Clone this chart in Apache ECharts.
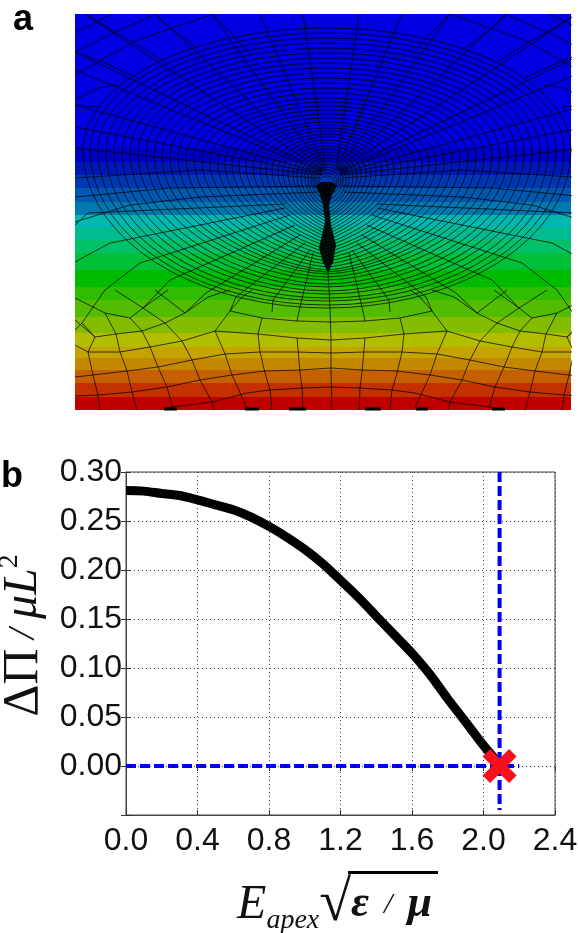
<!DOCTYPE html>
<html>
<head>
<meta charset="utf-8">
<style>html,body{margin:0;background:#fff}#main{width:578px;height:933px}</style>
<script src="https://cdn.jsdelivr.net/npm/echarts@6/dist/echarts.min.js"></script>
</head>
<body>
<div id="main"></div>
<script>
// panel b values
var fieldValues = [0, 0.1, 0.2, 0.3, 0.4, 0.5, 0.6, 0.7, 0.8, 0.9, 1.0, 1.1, 1.2, 1.3, 1.4, 1.5, 1.6, 1.7, 1.8, 1.9, 2.0, 2.07];
var pressureValues = [0.281, 0.2805, 0.278, 0.276, 0.2715, 0.2665, 0.2615, 0.254, 0.2445, 0.2335, 0.221, 0.2065, 0.1895, 0.172, 0.153, 0.134, 0.115, 0.0935, 0.0685, 0.045, 0.021, 0.006];
var criticalField = 2.09;
var criticalLineX = [[criticalField, 0.30], [criticalField, -0.045]];
var criticalLineY = [[0, 0], [2.2, 0]];

// panel a: contour bands (picture units, y downwards)
var bandEdges = [14, 148, 162, 175, 188, 202, 215, 227, 240, 253, 270, 287, 300, 317, 333, 347, 358, 370, 383, 397, 410];
var bandColors = ['#0000e0', '#0000c4', '#0018b8', '#0038b4', '#0058b0', '#0078b0', '#00b8b0', '#00bc90', '#00c068', '#00c038', '#00bc00', '#30bc00', '#54bc00', '#84bc00', '#b4bc00', '#c4a400', '#c48800', '#c46000', '#c43000', '#c00000'];

// panel a: mesh rings, outermost first
var meshCentre = 327;
var ringHalf = [244, 237, 229, 221, 213, 205, 197, 189, 181, 173, 165, 157, 149, 141, 133, 125, 117, 109, 102, 95, 88, 81, 74, 67, 61, 55, 49, 44, 39, 34, 30, 26, 22, 19, 16, 14, 12, 10, 8];
var ringTop = [28, 33, 38, 43, 48, 53, 58, 63, 68, 73, 78, 83, 88, 93, 98, 102, 106, 110, 114, 118, 122, 125, 128, 131, 134, 137, 140, 143, 146, 149, 152, 155, 158, 161, 164, 167, 170, 173, 176];
var ringBottom = [308, 305, 301, 298, 294, 291, 287, 284, 280, 277, 274, 272, 270, 267, 264, 261, 258, 255, 252, 249, 246, 243, 240, 237, 234, 231, 228, 225, 222, 219, 216, 213, 209, 205, 200, 195, 192, 190, 188];
var ringWaist = [150, 150, 150, 151, 151, 152, 152, 153, 153, 154, 155, 156, 157, 158, 159, 160, 161, 162, 163, 164, 165, 166, 167, 168, 169, 170, 171, 172, 173, 174, 175, 176, 177, 178, 179, 180, 181, 182, 183];
var ringPinch = [2, 2, 2, 1.95, 1.9, 1.85, 1.8, 1.75, 1.7, 1.65, 1.6, 1.55, 1.5, 1.45, 1.4, 1.35, 1.3, 1.25, 1.2, 1.2, 1.15, 1.15, 1.1, 1.1, 1.1, 1.1, 1.1, 1.1, 1.1, 1.1, 1.2, 1.2, 1.3, 1.4, 1.5, 1.6, 1.6, 1.6, 1.6];

// spokes and coarse elements of the left half, mirrored for the right half
var mirrorAt = 662;
var upperSpokes = [
  [[326, 170], [303, 14]], [[325, 170], [260, 14]], [[324, 170], [212, 14]], [[323, 170], [155, 14]],
  [[322, 170], [85, 14]], [[322, 171], [75, 52]], [[322, 172], [75, 70]], [[322, 173], [75, 105]],
  [[322, 174], [75, 127]], [[322, 175], [75, 148]], [[320, 178], [200, 170], [75, 178]],
  [[320, 186], [170, 188], [75, 197]], [[318, 192], [200, 197], [130, 205], [75, 222]]
];
var lowerSpokes = [
  [[313, 253], [300, 307], [297, 321]], [[310, 250], [273, 300], [272, 312]],
  [[305, 243], [236, 297], [230, 311]], [[300, 235], [206, 293], [185, 313]], [[295, 225], [170, 280], [143, 308]],
  [[290, 215], [140, 263], [105, 290], [82, 323]], [[285, 208], [110, 243], [75, 262]], [[285, 204], [88, 213], [75, 225]]
];
var coarseMesh = [
  [[75, 33], [112, 14]], [[75, 52], [115, 32], [157, 14]], [[75, 75], [133, 42], [172, 28], [213, 14]],
  [[75, 100], [98, 88], [118, 85]], [[85, 14], [115, 32], [133, 42], [165, 62]], [[155, 14], [170, 28], [197, 48]],
  [[212, 14], [235, 37], [250, 55]], [[75, 52], [98, 60], [138, 78]], [[75, 105], [100, 107]],
  [[75, 377], [93, 375], [127, 371], [158, 367], [192, 360], [225, 354], [260, 352], [297, 352], [331, 353]],
  [[75, 396], [98, 395], [132, 392], [167, 387], [200, 380], [232, 375], [265, 371], [300, 370], [331, 368]],
  [[165, 408], [212, 402], [247, 393], [270, 390], [302, 388], [331, 387]],
  [[75, 345], [88, 352], [120, 352], [150, 347], [182, 341], [215, 331], [258, 334], [297, 338], [331, 340]],
  [[95, 337], [116, 334], [142, 331], [165, 323], [185, 313], [208, 297], [230, 290]],
  [[215, 331], [230, 311], [242, 297], [252, 290]], [[230, 311], [262, 318], [297, 321], [331, 322]],
  [[88, 352], [93, 375], [98, 395], [100, 410]],
  [[105, 313], [116, 334], [120, 352], [127, 371], [132, 392], [137, 410]],
  [[130, 318], [142, 331], [150, 347], [158, 367], [167, 387], [173, 408]],
  [[165, 323], [182, 341], [192, 360], [200, 380], [212, 402], [214, 410]],
  [[215, 331], [225, 354], [232, 375], [247, 408]],
  [[258, 334], [260, 352], [265, 373], [270, 390], [272, 410]], [[262, 318], [258, 334]],
  [[297, 338], [300, 372], [302, 388], [303, 410]],
  [[95, 337], [75, 320]], [[95, 337], [88, 352]], [[82, 323], [75, 330]], [[82, 323], [95, 337]],
  [[105, 313], [75, 298]], [[130, 318], [105, 313]], [[130, 318], [143, 308], [168, 290]],
  [[143, 308], [165, 323]], [[143, 308], [115, 290]], [[185, 313], [155, 290]]
];
var centreLine = [[328, 272], [330, 308], [331, 340], [331, 370], [332, 410]];
var bottomMarks = [[164, 177], [245, 259], [289, 306], [365, 381], [416, 428], [492, 505]];
var stemOutline = [[316, 186], [321, 182], [332, 182], [337, 186], [332, 195], [329, 205], [331, 225], [336, 245], [333, 262], [328, 273], [323, 262], [319, 248], [322, 235], [325, 222], [323, 205], [320, 195]];

function ringPoints(i) {
  var pts = [], n = 72;
  for (var k = 0; k <= n; k++) {
    var t = k / n * 2 * Math.PI;
    var u = Math.abs(Math.sin(t));
    var x = meshCentre + ringHalf[i] * Math.sin(t);
    var c = Math.cos(t);
    var y = c > 0
      ? ringWaist[i] - (ringWaist[i] - ringTop[i]) * Math.sqrt(1 - u * u)
      : ringWaist[i] + (ringBottom[i] - ringWaist[i]) * Math.sqrt(1 - Math.pow(u, ringPinch[i]));
    pts.push([x, y]);
  }
  return pts;
}

var meshLines = [{ coords: centreLine }];
ringHalf.forEach(function (h, i) { meshLines.push({ coords: ringPoints(i) }); });
upperSpokes.concat(lowerSpokes, coarseMesh).forEach(function (line) {
  meshLines.push({ coords: line });
  meshLines.push({ coords: line.map(function (p) { return [mirrorAt - p[0], p[1]]; }) });
});

var markLines = bottomMarks.map(function (m) { return { coords: [[m[0], 409], [m[1], 409]] }; });

var bandData = bandColors.map(function (c, i) { return [bandEdges[i], bandEdges[i + 1]]; });

var crossPath = 'path://M22,0 L50,28 L78,0 L100,22 L72,50 L100,78 L78,100 L50,72 L22,100 L0,78 L28,50 L0,22 Z';
var tickFont = 'Liberation Sans';
var gridDots = { show: true, lineStyle: { type: [1, 3], color: '#444', width: 1 } };
var serif = 'Liberation Serif';

var myChart = echarts.init(document.getElementById('main'));
myChart.setOption({
  animation: false,
  backgroundColor: '#fff',
  grid: [
    { left: 75, top: 14, width: 496, height: 396, outerBoundsMode: 'none' },
    { left: 126, top: 472, width: 429, height: 343, outerBoundsMode: 'none', show: true, borderColor: '#444', borderWidth: 1, backgroundColor: 'transparent' }
  ],
  xAxis: [
    { gridIndex: 0, type: 'value', min: 75, max: 571, show: false },
    {
      gridIndex: 1, type: 'value', min: 0, max: 2.4, interval: 0.4,
      axisLine: { onZero: false, lineStyle: { color: '#444' } },
      axisTick: { inside: true, length: 5, lineStyle: { color: '#333' } },
      splitLine: gridDots,
      axisLabel: { color: '#111', fontFamily: tickFont, fontSize: 32, margin: 10, formatter: function (v) { return v.toFixed(1); } },
      name: '{E|E}{sub|apex}{root|√}{eps|ε}{slash|  /  }{mu|μ}',
      nameLocation: 'middle', nameGap: 60,
      nameTextStyle: {
        fontFamily: serif, color: '#111', padding: [0, 12, 0, 0],
        rich: {
          E: { fontFamily: serif, fontStyle: 'italic', fontSize: 48, color: '#111', lineHeight: 60 },
          sub: { fontFamily: serif, fontStyle: 'italic', fontSize: 28, color: '#111', lineHeight: 60, verticalAlign: 'bottom' },
          root: { fontFamily: serif, fontSize: 58, color: '#111', lineHeight: 60 },
          eps: { fontFamily: serif, fontStyle: 'italic', fontWeight: 'bold', fontSize: 44, color: '#111', lineHeight: 60 },
          slash: { fontFamily: serif, fontStyle: 'italic', fontSize: 30, color: '#111', lineHeight: 60 },
          mu: { fontFamily: serif, fontStyle: 'italic', fontWeight: 'bold', fontSize: 44, color: '#111', lineHeight: 60 }
        }
      }
    },
    {
      gridIndex: 1, type: 'value', min: 0, max: 2.4, interval: 0.4, position: 'top',
      axisLine: { show: false }, axisLabel: { show: false }, splitLine: { show: false },
      axisTick: { inside: true, length: 5, lineStyle: { color: '#333' } }
    }
  ],
  yAxis: [
    { gridIndex: 0, type: 'value', min: 14, max: 410, inverse: true, show: false },
    {
      gridIndex: 1, type: 'value', min: -0.05, max: 0.30, interval: 0.05,
      axisLine: { show: true, lineStyle: { color: '#444' } },
      axisTick: { show: true, inside: true, length: 5, lineStyle: { color: '#333' } },
      splitLine: gridDots,
      axisLabel: {
        color: '#111', fontFamily: tickFont, fontSize: 32, margin: 4,
        formatter: function (v) { return v < -0.001 ? '' : Math.abs(v).toFixed(2); }
      },
      name: '{up|ΔΠ}{slash| / }{it|μL}{sup|2}',
      nameLocation: 'middle', nameRotate: 90, nameGap: 58,
      nameTextStyle: {
        color: '#111', fontFamily: serif, padding: [0, 0, 0, 16],
        rich: {
          up: { fontFamily: serif, fontSize: 50, color: '#111', lineHeight: 56 },
          slash: { fontFamily: serif, fontStyle: 'italic', fontSize: 38, color: '#111', lineHeight: 56 },
          it: { fontFamily: serif, fontStyle: 'italic', fontSize: 48, color: '#111', lineHeight: 56 },
          sup: { fontFamily: serif, fontSize: 28, color: '#111', lineHeight: 56, verticalAlign: 'top' }
        }
      }
    },
    {
      gridIndex: 1, type: 'value', min: -0.05, max: 0.30, interval: 0.05, position: 'right',
      axisLine: { show: false }, axisLabel: { show: false }, splitLine: { show: false },
      axisTick: { show: true, inside: true, length: 5, lineStyle: { color: '#333' } }
    }
  ],
  series: [
    {
      type: 'custom', xAxisIndex: 0, yAxisIndex: 0, silent: true, clip: true,
      data: bandData,
      encode: { y: [0, 1] },
      renderItem: function (params, api) {
        var a = api.coord([75, api.value(0)]);
        var b = api.coord([571, api.value(1)]);
        return { type: 'rect', shape: { x: a[0], y: a[1], width: b[0] - a[0], height: b[1] - a[1] }, style: { fill: bandColors[params.dataIndex] } };
      }
    },
    {
      type: 'lines', coordinateSystem: 'cartesian2d', xAxisIndex: 0, yAxisIndex: 0, polyline: true, silent: true, clip: true,
      lineStyle: { color: '#000', width: 1, opacity: 0.72 },
      data: meshLines
    },
    {
      type: 'lines', coordinateSystem: 'cartesian2d', xAxisIndex: 0, yAxisIndex: 0, polyline: true, silent: true, clip: true,
      lineStyle: { color: '#000', width: 3, opacity: 1 },
      data: markLines
    },
    {
      type: 'custom', xAxisIndex: 0, yAxisIndex: 0, silent: true,
      data: [[0]],
      renderItem: function (params, api) {
        return { type: 'polygon', shape: { points: stemOutline.map(function (p) { return api.coord(p); }) }, style: { fill: '#000', opacity: 0.92 } };
      }
    },
    {
      name: 'curve', type: 'line', xAxisIndex: 1, yAxisIndex: 1, showSymbol: false, smooth: 0.3, z: 3,
      lineStyle: { color: '#000', width: 9 },
      data: fieldValues.map(function (x, i) { return [x, pressureValues[i]]; })
    },
    {
      type: 'line', xAxisIndex: 1, yAxisIndex: 1, showSymbol: false, z: 4,
      lineStyle: { color: '#0000ee', width: 4, type: [10, 4] },
      data: criticalLineX
    },
    {
      type: 'line', xAxisIndex: 1, yAxisIndex: 1, showSymbol: false, z: 4,
      lineStyle: { color: '#0000ee', width: 4, type: [10, 4] },
      data: criticalLineY
    },
    {
      type: 'scatter', xAxisIndex: 1, yAxisIndex: 1, z: 5,
      symbol: crossPath, symbolSize: 34, itemStyle: { color: '#f5101c', opacity: 1 },
      data: [[criticalField, 0]]
    }
  ],
  graphic: [
    { type: 'text', left: 13, top: 2, style: { text: 'a', fontFamily: 'Liberation Sans', fontWeight: 'bold', fontSize: 36, fill: '#000' } },
    { type: 'text', left: 1, top: 459, style: { text: 'b', fontFamily: 'Liberation Sans', fontWeight: 'bold', fontSize: 36, fill: '#000' } },
    { type: 'rect', left: 348, top: 871, shape: { width: 90, height: 3 }, style: { fill: '#000' } }
  ]
});
</script>
</body>
</html>
